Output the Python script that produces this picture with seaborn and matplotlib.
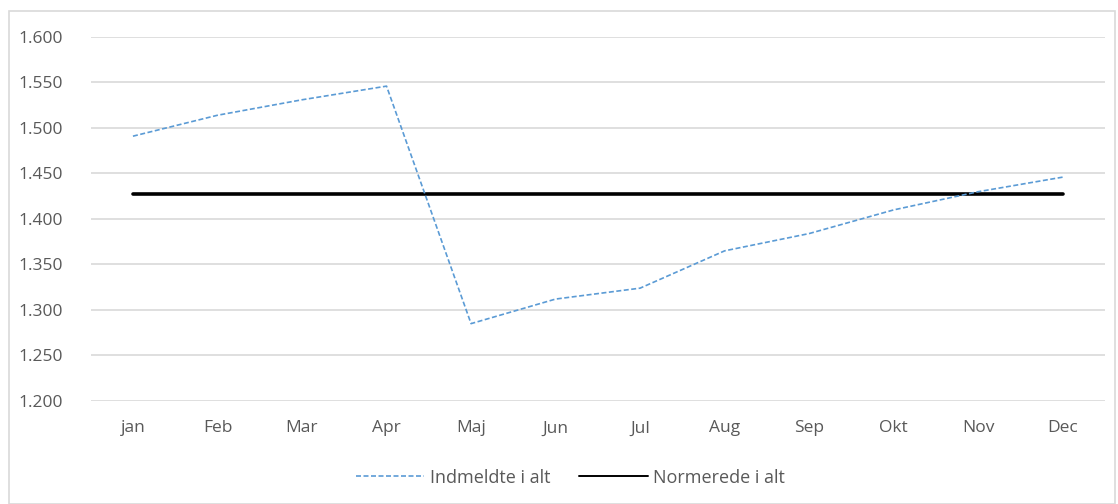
import matplotlib
matplotlib.use("Agg")
import matplotlib.pyplot as plt
import seaborn as sns
import pandas as pd
from matplotlib.ticker import FuncFormatter
from matplotlib.patches import Rectangle
from matplotlib.lines import Line2D

months = ["jan", "Feb", "Mar", "Apr", "Maj", "Jun", "Jul", "Aug", "Sep", "Okt", "Nov", "Dec"]
indmeldte = [1491, 1514, 1531, 1546, 1285, 1312, 1324, 1365, 1384, 1410, 1430, 1446]
normerede = [1427] * 12
series_names = ["Indmeldte i alt", "Normerede i alt"]

df = pd.DataFrame({
    "Måned": months * 2,
    "Antal": indmeldte + normerede,
    "Serie": [series_names[0]] * 12 + [series_names[1]] * 12,
})

sns.set_theme(style="white")
plt.rcParams["font.family"] = ["Open Sans", "DejaVu Sans"]

fig = plt.figure(figsize=(11.18, 5.04), dpi=100)
ax = fig.add_axes([0.0811, 0.2044, 0.9073, 0.7222])

palette = {series_names[0]: "#5B9BD5", series_names[1]: "#000000"}
sns.lineplot(data=df, x="Måned", y="Antal", hue="Serie", style="Serie",
             palette=palette, dashes={series_names[0]: (3, 1.5), series_names[1]: ""},
             sort=False, ax=ax, legend=False)
lines = ax.get_lines()
lines[0].set_linewidth(1.2)
lines[1].set_linewidth(2.6)
lines[0].set_zorder(3)
lines[1].set_zorder(2)

ax.set_xlim(-0.5, 11.5)
ax.set_ylim(1200, 1600)
ax.set_yticks(range(1200, 1601, 50))
ax.yaxis.set_major_formatter(FuncFormatter(lambda v, p: f"{int(v):,}".replace(",", ".")))
ax.grid(axis="y", color="#d9d9d9", linewidth=1.2)
ax.grid(axis="x", visible=False)
ax.set_axisbelow(True)
for s in ax.spines.values():
    s.set_visible(False)
ax.set_xlabel("")
ax.set_ylabel("")
ax.tick_params(axis="both", length=0, labelsize=12.5, labelcolor="#595959")
ax.tick_params(axis="y", pad=20)
ax.tick_params(axis="x", pad=14)

handles = [Line2D([], [], color="#5B9BD5", lw=1.2, dashes=(3, 1.5)),
           Line2D([], [], color="#000000", lw=1.4)]
fig.legend(handles, series_names, loc="center", bbox_to_anchor=(0.51, 0.052), ncol=2,
           frameon=False, fontsize=13, handlelength=3.8, columnspacing=1.6,
           labelcolor="#595959", handletextpad=0.3)

fig.patches.append(Rectangle((9 / 1118, 0.0), 1106 / 1118, 1 - 11 / 504,
                             transform=fig.transFigure, fill=False,
                             edgecolor="#d9d9d9", linewidth=1.2))

fig.savefig("out.png", dpi=100)
